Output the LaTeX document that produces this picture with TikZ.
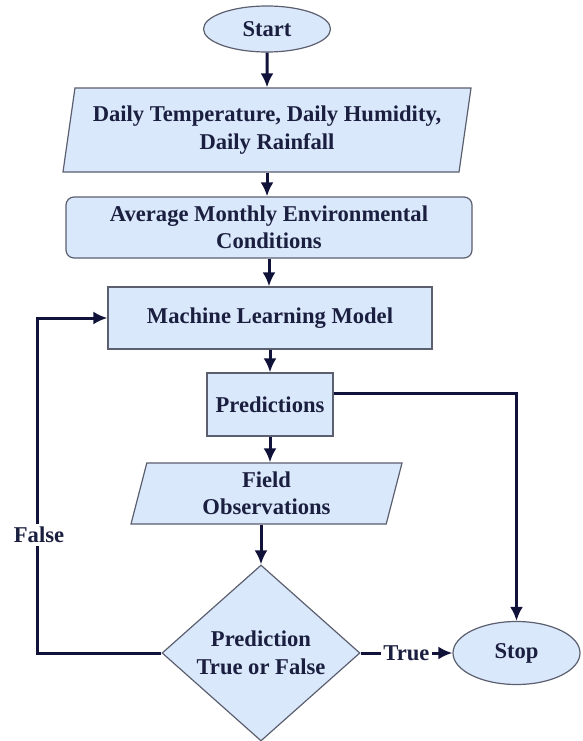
\documentclass[tikz,border=0pt]{standalone}
\usepackage{fontspec}
\setmainfont{Liberation Serif}
\usetikzlibrary{shapes.geometric,arrows.meta}
\definecolor{boxfill}{HTML}{DAE8FC}
\definecolor{boxline}{HTML}{5B5F6E}
\definecolor{ink}{HTML}{1B1F3F}
\definecolor{wire}{HTML}{10123A}
\begin{document}
\begin{tikzpicture}[x=1pt,y=-1pt,
  every node/.style={font=\fontsize{22.6}{27.5}\selectfont\bfseries, text=ink},
  shapebox/.style={draw=boxline, line width=1.2pt, fill=boxfill, align=center, inner sep=0pt},
  terminal/.style={shapebox, ellipse},
  iobox/.style={shapebox, trapezium, trapezium stretches body},
  flow/.style={draw=wire, line width=3pt, -{Latex[length=14pt,width=13pt]}},
  tag/.style={fill=white, inner xsep=2pt, inner ysep=3pt}]
\useasboundingbox (0,0) rectangle (583,741);

% process steps
\node[terminal, minimum width=127pt, minimum height=46pt] (start) at (267,29) {Start};
\node[iobox, trapezium left angle=76, trapezium right angle=104,
      minimum width=408pt, minimum height=84pt] (data) at (267,130)
      {Daily Temperature, Daily Humidity,\\Daily Rainfall};
\node[shapebox, rounded corners=8pt, minimum width=406pt, minimum height=61pt] (avg) at (269,227.5)
      {Average Monthly Environmental\\Conditions};
\node[shapebox, minimum width=324pt, minimum height=62pt] (ml) at (270,318) {Machine Learning Model};
\node[shapebox, minimum width=126pt, minimum height=63pt] (pred) at (270,404.5) {Predictions};
\node[iobox, trapezium left angle=70, trapezium right angle=110,
      minimum width=271pt, minimum height=61pt] (field) at (266.5,493.5) {Field\\Observations};
\node[shapebox, diamond, aspect=1.125, minimum width=198pt, minimum height=176pt] (dec) at (261,653)
      {Prediction\\True or False};
\node[terminal, minimum width=127pt, minimum height=63pt] (stop) at (516.5,653) {Stop};

% main flow
\draw[flow] (start.south) -- (data.north);
\draw[flow] (data.south) -- (data.south |- avg.north);
\draw[flow] (avg.south) -- (avg.south |- ml.north);
\draw[flow] (ml.south) -- (pred.north);
\draw[flow] (pred.south) -- (pred.south |- field.north);
\draw[flow] (field.south -| dec.north) -- (dec.north);

% decision outcomes
\draw[flow] (dec.west) -- ++(-124,0) |- (ml.west);
\node[tag] (false) at (39,535) {False};
\draw[flow] (dec.east) -- node[tag] (true) {True} (stop.west);
\draw[flow] ([yshift=11.5pt]pred.east) -| (stop.north);
\end{tikzpicture}
\end{document}
